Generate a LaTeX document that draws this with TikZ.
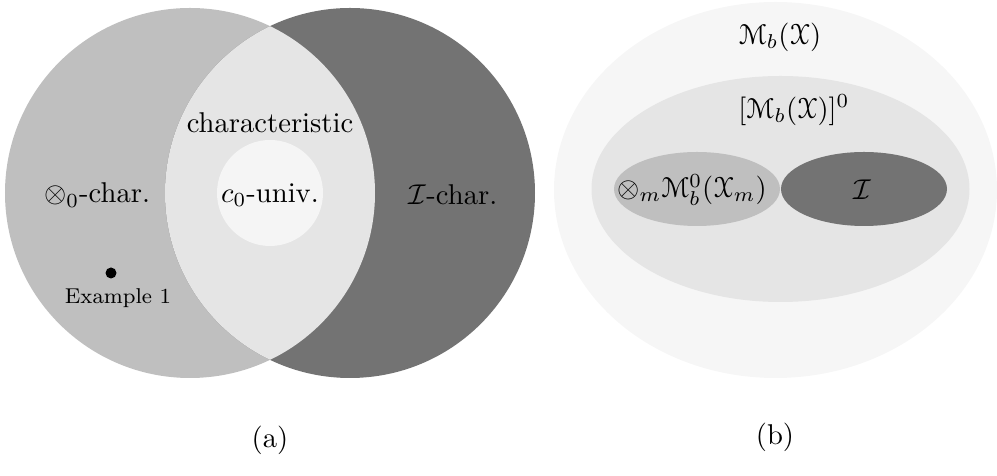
\documentclass[tikz,border=0pt]{standalone}
\usepackage[mathscr]{eucal}

\begin{document}
\begin{tikzpicture}[x=0.01229cm,y=-0.01229cm,
    light/.style={fill=black!25},
    dark/.style={fill=black!55},
    pale/.style={fill=black!10},
    palest/.style={fill=black!4}]
      \useasboundingbox (0,0) rectangle (997,476) ;
      % (a)
      \fill[light] (190,193) circle (185) ;
      \fill[dark] (350,193) circle (185) ;
      \begin{scope}
        \clip (190,193) circle (185) ;
        \fill[pale] (350,193) circle (185) ;
      \end{scope}
      \fill[palest] (270,193) circle (53) ;
      \node (char) at (270,123) {characteristic} ;
      \node (univ) at (270,195) {$c_0$-univ.} ;
      \node (tens) at (97,195) {$\otimes_0$-char.} ;
      \node (ichar) at (453,195) {$\mathcal{I}$-char.} ;
      \node[fill=black,inner sep=0pt,minimum size=11*0.01229cm,shape=circle] %
      (ex) at (111,273) {} ;
      \node[font=\fontsize{7.5}{9}\selectfont] (exlab) at (118,298) {Example 1} ;
      \node (capa) at (270,440) {(a)} ;
      % (b)
      \fill[palest,fill=black!3.5] (775.5,190) ellipse (221.5 and 188) ;
      \fill[pale] (780.5,189) ellipse (189 and 113) ;
      \fill[light] (697,189) ellipse (83 and 37) ;
      \fill[dark] (864,189) ellipse (83 and 37) ;
      \node (mb) at (780,37) {$\mathscr{M}_b(\mathscr{X})$} ;
      \node (mbz) at (794,110) {$[\mathscr{M}_b(\mathscr{X})]^0$} ;
      \node[inner sep=0pt] (prod) at (692,190) {$\otimes_m\mathscr{M}_b^0(\mathscr{X}_m)$} ;
      \node (ideal) at (862,190) {$\mathcal{I}$} ;
      \node (capb) at (775,437) {(b)} ;
    \end{tikzpicture}
\end{document}
